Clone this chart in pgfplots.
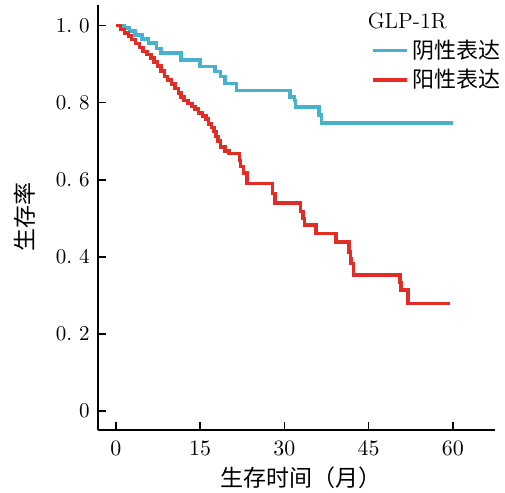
\documentclass[border=0pt]{standalone}
\usepackage{fontspec}
\newfontfamily\cjk{Noto Sans CJK SC}
\usepackage{pgfplots}
\pgfplotsset{compat=1.18}
\definecolor{negblue}{RGB}{72,178,204}
\definecolor{posred}{RGB}{226,44,38}

\begin{document}
\begin{tikzpicture}
\path[use as bounding box] (-49pt,-31.5pt) rectangle (203.5pt,215pt);
\begin{axis}[
  scale only axis, width=198.5pt, height=212.5pt,
  xmin=-3.2, xmax=67.5, ymin=-0.049, ymax=1.053,
  axis lines*=left, axis line style={-, line width=0.9pt},
  tick align=inside, tick pos=left, major tick length=4pt,
  tick style={black, line width=0.8pt},
  xtick={0,15,30,45,60},
  ytick={0,0.2,0.4,0.6,0.8,1.0},
  yticklabels={0,0.\,\,2,0.\,\,4,0.\,\,6,0.\,\,8,1.\,\,0},
  ticklabel style={font=\fontsize{10.5}{12}\selectfont},
  xticklabel style={yshift=-2pt},
  yticklabel style={xshift=-0.6pt},
  xlabel={\cjk 生存时间（月）}, ylabel={\cjk 生存率},
  label style={font=\fontsize{11.5}{13}\selectfont},
  xlabel style={at={(axis description cs:0.511,-0.112)}, anchor=center},
  ylabel style={at={(axis description cs:-0.184,0.5)}, anchor=center},
  legend style={at={(axis description cs:0.672,1.0)}, anchor=north west,
    draw=none, fill=none, font=\fontsize{11}{12.5}\selectfont},
  legend cell align=left,
]
\addlegendimage{empty legend}
\addlegendentry{\hspace*{-22.5pt}GLP-1R}

% negative expression
\addplot[const plot, color=negblue, line width=1.75pt] coordinates {
  (0,1.0) (1.4,0.993) (2.4,0.985) (3.4,0.975) (4.6,0.965) (5.8,0.955)
  (7.2,0.94) (8.0,0.928) (11.6,0.910) (15.0,0.893) (17.6,0.880)
  (18.6,0.867) (19.4,0.850) (21.5,0.831) (31.0,0.815) (31.8,0.806)
  (32.0,0.789) (36.2,0.768) (36.6,0.747) (60,0.747)
};
\addlegendentry{\cjk 阴性表达}

% positive expression
\addplot[const plot, color=posred, line width=1.75pt] coordinates {
  (0,1.0) (0.8,0.99) (1.5,0.98) (2.2,0.972) (2.8,0.963) (3.5,0.953)
  (4.2,0.943) (4.8,0.933) (5.5,0.925) (6.2,0.915) (6.8,0.905) (7.4,0.895)
  (8.0,0.882) (8.6,0.868) (9.2,0.858) (9.9,0.848) (10.5,0.837) (11.1,0.825)
  (11.6,0.815) (12.1,0.805) (12.8,0.797) (13.5,0.79) (14.1,0.783)
  (14.7,0.773) (15.4,0.765) (16.0,0.757) (16.5,0.745) (17.0,0.735)
  (17.5,0.725) (17.8,0.712) (18.2,0.700) (18.6,0.685) (19.4,0.675)
  (20.1,0.668) (22.0,0.650) (22.2,0.634) (22.7,0.617) (23.3,0.590)
  (27.9,0.564) (28.3,0.539) (32.9,0.517) (33.3,0.500) (33.6,0.482)
  (35.6,0.461) (39.2,0.439) (41.5,0.413) (41.8,0.395) (41.9,0.383)
  (42.3,0.353) (50.6,0.333) (50.8,0.314) (52.0,0.279) (59.5,0.279)
};
\addlegendentry{\cjk 阳性表达}
\end{axis}
\end{tikzpicture}
\end{document}
